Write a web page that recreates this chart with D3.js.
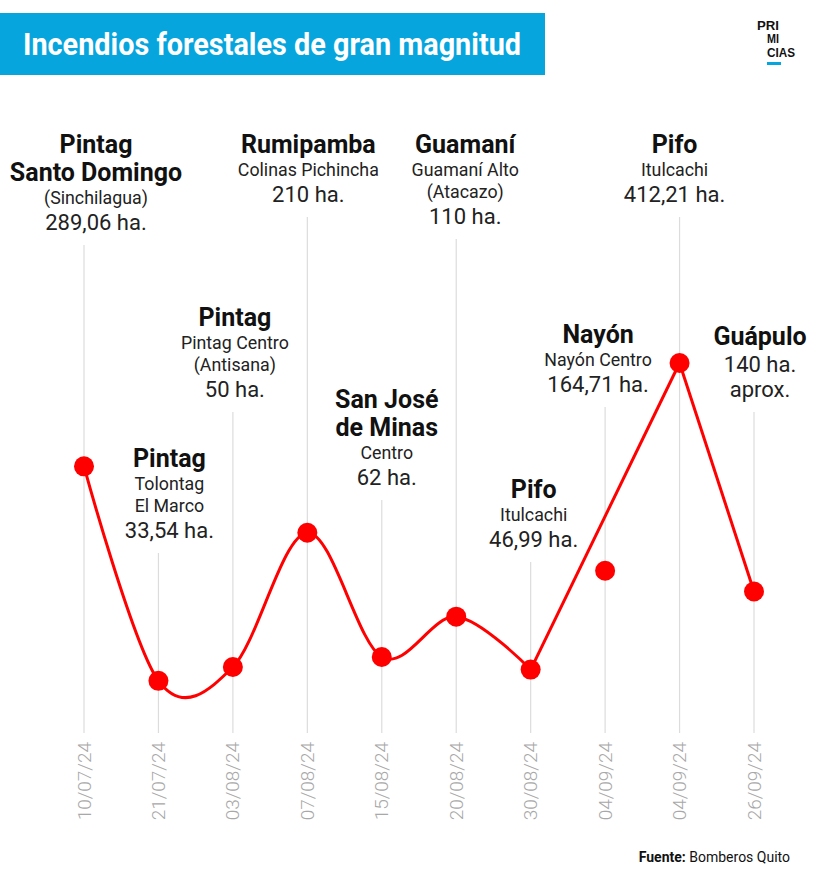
<!DOCTYPE html>
<html><head><meta charset="utf-8">
<script src="https://cdn.jsdelivr.net/npm/d3@7"></script>
<style>
html,body{margin:0;padding:0;background:#fff;}
svg{display:block;font-family:Roboto,"Noto Sans",sans-serif;}
</style></head>
<body><svg id="c" width="820" height="877"></svg>
<script>
// ---- data ----
const dates = ["10/07/24","21/07/24","03/08/24","07/08/24","15/08/24","20/08/24","30/08/24","04/09/24","04/09/24","26/09/24"];
const hectares = [289.06, 33.54, 50, 210, 62, 110, 46.99, 164.71, 412.21, 140];
const places = [["Pintag","Santo Domingo"],["Pintag"],["Pintag"],["Rumipamba"],["San José","de Minas"],["Guamaní"],["Pifo"],["Nayón"],["Pifo"],["Guápulo"]];
const sectors = [["(Sinchilagua)"],["Tolontag","El Marco"],["Pintag Centro","(Antisana)"],["Colinas Pichincha"],["Centro"],["Guamaní Alto","(Atacazo)"],["Itulcachi"],["Nayón Centro"],["Itulcachi"],[]];
const areaLabels = [["289,06 ha."],["33,54 ha."],["50 ha."],["210 ha."],["62 ha."],["110 ha."],["46,99 ha."],["164,71 ha."],["412,21 ha."],["140 ha.","aprox."]];
// groups of points joined by the red line (as drawn in the original)
const curveSegments = [[0,1,2,3,4,5,6],[6,8],[8,9]];
const title = "Incendios forestales de gran magnitud";
const logoLines = ["PRI","MI","CIAS"];
const source = ["Fuente:", "Bomberos Quito"];

// ---- layout ----
const labelTop = [153,467,326,153,408,153,498,343,153,345];
const labelDx = [12,11,2,1,5,9,3,-7,-5,6];

const svg = d3.select("#c");
const idx = d3.range(dates.length);
const x = d3.scalePoint().domain(idx).range([84, 754]);
const y = d3.scaleLinear().domain([0, 412.21]).range([709, 363]);

// title banner
svg.append("rect").attr("x",0).attr("y",13).attr("width",545).attr("height",62).attr("fill","#06a5de");
svg.append("text").attr("x",23).attr("y",55).attr("fill","#fff").attr("font-size",31).attr("font-weight",700)
  .attr("textLength",498).attr("lengthAdjust","spacingAndGlyphs").text(title);

// logo
const logoX = [757,767,767], logoY = [29.5,43.4,57.3], logoW = [22,12,28];
logoLines.forEach((t,k) => svg.append("text").attr("x",logoX[k]).attr("y",logoY[k])
  .attr("font-family","'Liberation Sans',Arial,sans-serif").attr("font-weight",700).attr("font-size",12.2).attr("fill","#111")
  .attr("textLength",logoW[k]).attr("lengthAdjust","spacingAndGlyphs").text(t));
svg.append("rect").attr("x",767).attr("y",62).attr("width",14).attr("height",3).attr("fill","#06a5de");

// labels + gridlines
idx.forEach(i => {
  const cx = x(i) + labelDx[i];
  let yy = labelTop[i];
  let prev = null;
  const lines = [];
  places[i].forEach(t => lines.push({t, k:"b"}));
  sectors[i].forEach(t => lines.push({t, k:"s"}));
  areaLabels[i].forEach(t => lines.push({t, k:"v"}));
  const gap = {bb:28, bs:23, bv:27, ss:22, sv:26, vv:25};
  lines.forEach(l => {
    if (prev) yy += gap[prev + l.k];
    const t = svg.append("text").attr("x",cx).attr("y",yy).attr("text-anchor","middle").attr("fill","#111").text(l.t);
    if (l.k === "b") t.attr("font-size",25).attr("font-weight",700);
    else if (l.k === "s") t.attr("font-size",17.8).attr("fill","#222");
    else t.attr("font-size",22).attr("fill","#222");
    prev = l.k;
  });
  svg.append("line").attr("x1",x(i)).attr("x2",x(i)).attr("y1",yy+15).attr("y2",733)
    .attr("stroke","#dcdcdc").attr("stroke-width",1.2);
});

// x axis labels (rotated)
idx.forEach(i => {
  svg.append("text").attr("transform",`translate(${x(i)},742) rotate(-90)`)
    .attr("text-anchor","end").attr("dominant-baseline","central")
    .attr("font-size",19).attr("font-weight",300).attr("fill","#a8a8a8").text(dates[i]);
});

// line
const line = d3.line().x(i => x(i)).y(i => y(hectares[i])).curve(d3.curveCardinal);
svg.selectAll("path.seg").data(curveSegments).join("path").attr("class","seg").attr("d",line)
  .attr("fill","none").attr("stroke","#ff0000").attr("stroke-width",3).attr("stroke-linejoin","round");

// points
svg.selectAll("circle.pt").data(idx).join("circle").attr("class","pt")
  .attr("cx",i => x(i)).attr("cy",i => y(hectares[i])).attr("r",10).attr("fill","#ff0000");

// source
const src = svg.append("text").attr("x",790).attr("y",862).attr("text-anchor","end").attr("font-size",14).attr("fill","#111");
src.append("tspan").attr("font-weight",700).text(source[0] + " ");
src.append("tspan").text(source[1]);
</script></body></html>
